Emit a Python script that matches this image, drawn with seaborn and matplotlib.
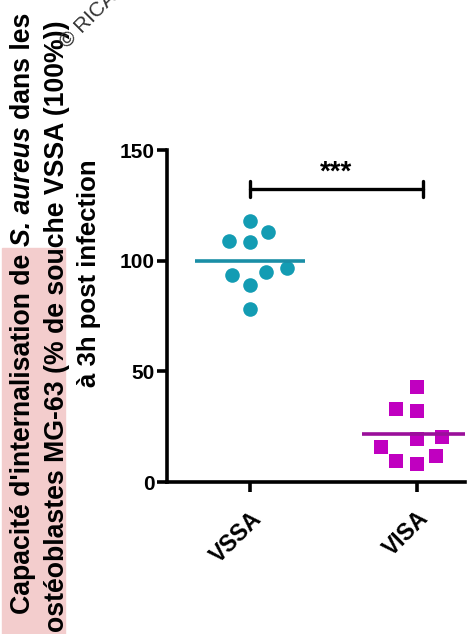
import numpy as np
import pandas as pd
import matplotlib
matplotlib.use("Agg")
import matplotlib.pyplot as plt
import seaborn as sns

# ---- data ----
categories = ["VSSA", "VISA"]
vssa_values = [118.1, 113.0, 108.3, 109.0, 96.7, 93.4, 95.0, 88.9, 78.2]
visa_values = [43.1, 32.1, 33.1, 20.5, 19.3, 16.0, 11.7, 8.1, 9.3]
yticks = [0, 50, 100, 150]
signif_label = "***"

colors = {"VSSA": "#139cb3", "VISA": "#c000c0"}
line_colors = {"VSSA": "#1a8ea6", "VISA": "#9a0f9a"}
markers = {"VSSA": "o", "VISA": "s"}

df = pd.DataFrame({
    "group": ["VSSA"] * len(vssa_values) + ["VISA"] * len(visa_values),
    "value": vssa_values + visa_values,
})

sns.set_theme(style="white")
plt.rcParams["font.family"] = ["Liberation Sans", "DejaVu Sans"]
plt.rcParams["font.weight"] = "bold"

W, H = 469, 634
fig = plt.figure(figsize=(W / 100, H / 100), dpi=100)
ax = fig.add_axes([167 / W, 1 - 482 / H, 298 / W, (482 - 150) / H])

colls = []
for g in categories:
    n0 = len(ax.collections)
    sns.swarmplot(data=df[df["group"] == g], x="group", y="value", order=categories,
                  color=colors[g], marker=markers[g], size=14.5, linewidth=0, ax=ax,
                  clip_on=False, zorder=3)
    colls.extend(ax.collections[n0:])

ax.set_xlim(-0.5, 1.29)
ax.set_ylim(0, 150)

# lay out the swarm with a wider spacing, then freeze it and shrink markers
fig.canvas.draw()
for c in colls:
    if "draw" in c.__dict__:
        del c.__dict__["draw"]
    c.set_sizes([10.5 ** 2])

# mean lines
for i, g in enumerate(categories):
    m = df.loc[df["group"] == g, "value"].mean()
    ax.hlines(m, i - 0.33, i + 0.33, color=line_colors[g], linewidth=2.6, zorder=4)

ax.set_yticks(yticks)
ax.set_yticklabels([str(t) for t in yticks], fontsize=15, fontweight="bold")
ax.set_xticks(range(len(categories)))
ax.set_xticklabels(categories, fontsize=16.5, fontweight="bold", rotation=45,
                   ha="right", rotation_mode="anchor")
ax.set_xlabel("")
ax.set_ylabel("")
for s in ["top", "right"]:
    ax.spines[s].set_visible(False)
for s in ["left", "bottom"]:
    ax.spines[s].set_linewidth(2.6)
    ax.spines[s].set_color("black")
ax.tick_params(axis="both", which="both", direction="out", length=7, width=2.6,
               color="black", labelcolor="black", pad=2,
               left=True, bottom=True)
ax.tick_params(axis="x", pad=11)

# significance bar
ybar = 132.4
x0, x1 = 0, 1.035
ax.plot([x0, x1], [ybar, ybar], color="black", lw=2.4, clip_on=False)
ax.plot([x0, x0], [ybar - 3.6, ybar + 3.6], color="black", lw=2.4, clip_on=False)
ax.plot([x1, x1], [ybar - 3.6, ybar + 3.6], color="black", lw=2.4, clip_on=False)
ax.text((x0 + x1) / 2, ybar + 1.5, signif_label, ha="center", va="bottom",
        fontsize=20, fontweight="bold", color="black")

# pink highlight behind label
fig.patches.append(plt.Rectangle((2 / W, 0), 63 / W, (634 - 248) / H,
                                 transform=fig.transFigure, color="#f3cdcd",
                                 zorder=0))

# y label (three rotated lines, first one with italic species name)
renderer = fig.canvas.get_renderer()
fs = 19.2


def text_len(s, style="normal"):
    t = fig.text(0, 0, s, fontsize=fs, fontweight="bold", style=style)
    w = t.get_window_extent(renderer).width
    t.remove()
    return w


space = text_len("x x") - text_len("xx")
pieces = [("Capacité d'internalisation de", "normal"),
          ("S. aureus", "italic"),
          ("dans les", "normal")]
ypos = 614.0  # pixel from top where line 1 starts
x1c = 23
for k, (s, st) in enumerate(pieces):
    fig.text(x1c / W, 1 - ypos / H, s, rotation=90, fontsize=fs, fontweight="bold",
             style=st, ha="center", va="bottom", color="black")
    ypos -= text_len(s, st) + space

fig.text(57 / W, 1 - 632 / H, "ostéoblastes MG-63 (% de souche VSSA (100%))",
         rotation=90, fontsize=fs, fontweight="bold", ha="center", va="bottom",
         color="black")
fig.text(89 / W, 1 - 273 / H, "à 3h post infection", rotation=90, fontsize=18.5,
         fontweight="bold", ha="center", va="center", color="black")

# watermark
fig.text(70 / W, 1 - 52 / H, "© RICA", rotation=45, fontsize=15,
         fontweight="normal", color="#333333", ha="left", va="bottom",
         rotation_mode="anchor", zorder=5)

fig.savefig("out.png", dpi=100)
